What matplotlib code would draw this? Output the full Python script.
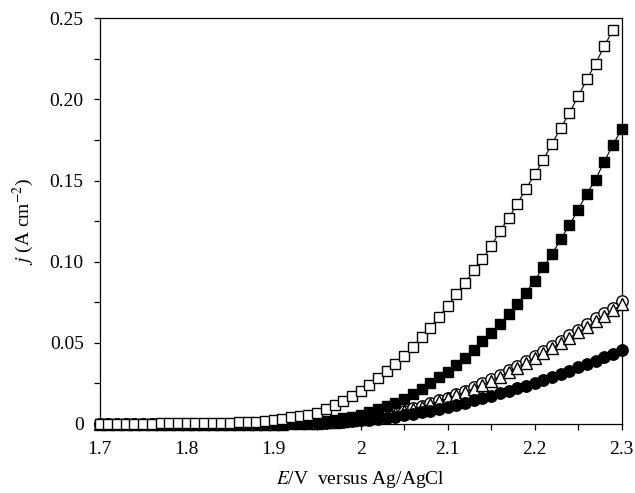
"""Current density vs potential, recreated."""

import matplotlib

matplotlib.use("Agg")
import matplotlib.pyplot as plt
from matplotlib.ticker import MultipleLocator, FixedLocator, FuncFormatter

plt.rcParams.update(
    {
        "font.family": "serif",
        "font.serif": ["Liberation Serif", "DejaVu Serif"],
        "mathtext.fontset": "stix",
        "font.size": 14,
        "axes.linewidth": 0.9,
    }
)

# Potential sweep, V vs Ag/AgCl
E = [1.70, 1.71, 1.72, 1.73, 1.74, 1.75, 1.76, 1.77, 1.78, 1.79,
     1.80, 1.81, 1.82, 1.83, 1.84, 1.85, 1.86, 1.87, 1.88, 1.89,
     1.90, 1.91, 1.92, 1.93, 1.94, 1.95, 1.96, 1.97, 1.98, 1.99,
     2.00, 2.01, 2.02, 2.03, 2.04, 2.05, 2.06, 2.07, 2.08, 2.09,
     2.10, 2.11, 2.12, 2.13, 2.14, 2.15, 2.16, 2.17, 2.18, 2.19,
     2.20, 2.21, 2.22, 2.23, 2.24, 2.25, 2.26, 2.27, 2.28, 2.29,
     2.30]

# open squares (ends at 2.29)
j_open_sq = [0.0001, 0.0001, 0.0001, 0.0002, 0.0002, 0.0002, 0.0002, 0.0003, 0.0003, 0.0003,
             0.0004, 0.0004, 0.0005, 0.0006, 0.0007, 0.0008, 0.0010, 0.0012, 0.0015, 0.0020,
             0.0025, 0.0033, 0.0041, 0.0049, 0.0057, 0.0070, 0.0091, 0.0119, 0.0144, 0.0173,
             0.0202, 0.0243, 0.0284, 0.0325, 0.0370, 0.0420, 0.0473, 0.0535, 0.0592, 0.0660,
             0.0728, 0.0798, 0.0868, 0.0946, 0.1016, 0.1094, 0.1189, 0.1267, 0.1357, 0.1448,
             0.1538, 0.1627, 0.1728, 0.1824, 0.1917, 0.2019, 0.2123, 0.2221, 0.2328, 0.2427]

j_filled_sq = [0.0, 0.0, 0.0, 0.0, 0.0, 0.0, 0.0, 0.0, 0.0, 0.0,
               0.0, 0.0, 0.0, 0.0, 0.0, 0.0001, 0.0002, 0.0003, 0.0004, 0.0005,
               0.0006, 0.0007, 0.0008, 0.0009, 0.0010, 0.0013, 0.0018, 0.0025, 0.0034, 0.0045,
               0.0057, 0.0074, 0.0091, 0.0111, 0.0131, 0.0156, 0.0185, 0.0218, 0.0255, 0.0288,
               0.0321, 0.0362, 0.0407, 0.0457, 0.0510, 0.0563, 0.0615, 0.0677, 0.0740, 0.0810,
               0.0884, 0.0967, 0.1045, 0.1140, 0.1226, 0.1321, 0.1420, 0.1506, 0.1617, 0.1720,
               0.1818]

j_open_circ = [0.0, 0.0, 0.0, 0.0, 0.0, 0.0, 0.0, 0.0, 0.0, 0.0,
               0.0, 0.0, 0.0, 0.0, 0.0, 0.0, 0.0, 0.0, 0.0, 0.0,
               0.0001, 0.0002, 0.0003, 0.0004, 0.0006, 0.0008, 0.0011, 0.0015, 0.0020, 0.0026,
               0.0033, 0.0041, 0.0050, 0.0060, 0.0071, 0.0083, 0.0097, 0.0112, 0.0128, 0.0145,
               0.0163, 0.0183, 0.0204, 0.0226, 0.0250, 0.0276, 0.0303, 0.0330, 0.0360, 0.0390,
               0.0420, 0.0450, 0.0483, 0.0514, 0.0547, 0.0580, 0.0613, 0.0650, 0.0683, 0.0716,
               0.0755]

j_open_tri = [0.0, 0.0, 0.0, 0.0, 0.0, 0.0, 0.0, 0.0, 0.0, 0.0,
              0.0, 0.0, 0.0, 0.0, 0.0, 0.0, 0.0, 0.0, 0.0, 0.0,
              0.0001, 0.0002, 0.0003, 0.0004, 0.0005, 0.0007, 0.0010, 0.0014, 0.0019, 0.0025,
              0.0031, 0.0039, 0.0048, 0.0057, 0.0068, 0.0080, 0.0093, 0.0107, 0.0122, 0.0139,
              0.0157, 0.0176, 0.0196, 0.0218, 0.0241, 0.0266, 0.0292, 0.0319, 0.0348, 0.0377,
              0.0406, 0.0436, 0.0468, 0.0499, 0.0531, 0.0564, 0.0597, 0.0633, 0.0666, 0.0700,
              0.0738]

j_filled_circ = [0.0, 0.0, 0.0, 0.0, 0.0, 0.0, 0.0, 0.0, 0.0, 0.0,
                 0.0, 0.0, 0.0, 0.0, 0.0, 0.0, 0.0, 0.0, 0.0, 0.0,
                 0.0001, 0.0002, 0.0003, 0.0004, 0.0005, 0.0007, 0.0009, 0.0011, 0.0014, 0.0018,
                 0.0022, 0.0027, 0.0032, 0.0038, 0.0045, 0.0053, 0.0062, 0.0072, 0.0082, 0.0093,
                 0.0105, 0.0118, 0.0132, 0.0145, 0.0159, 0.0173, 0.0188, 0.0204, 0.0220, 0.0237,
                 0.0254, 0.0271, 0.0290, 0.0309, 0.0329, 0.0350, 0.0370, 0.0391, 0.0411, 0.0432,
                 0.0457]

x_ticks = [1.7, 1.8, 1.9, 2.0, 2.1, 2.2, 2.3]
y_ticks = [0.0, 0.05, 0.10, 0.15, 0.20, 0.25]


fig = plt.figure(figsize=(6.35, 4.93), dpi=100)
ax = fig.add_axes([0.157, 0.140, 0.822, 0.823])

common = dict(color="black", lw=0.8, mec="black", mew=1.0, clip_on=False)
ax.plot(E, j_open_circ, marker="o", ms=8.2, mfc="white", zorder=3, **common)
ax.plot(E, j_open_tri, marker="^", ms=8.8, mfc="white", zorder=4, **common)
ax.plot(E, j_filled_circ, marker="o", ms=8.2, mfc="black", zorder=5, **common)
ax.plot(E, j_filled_sq, marker="s", ms=7.6, mfc="black", zorder=6, **common)
ax.plot(E[:len(j_open_sq)], j_open_sq, marker="s", ms=7.6, mfc="white", zorder=7, **common)

ax.set_xlim(1.7, 2.3)
ax.set_ylim(0, 0.25)

ax.xaxis.set_major_locator(FixedLocator(x_ticks))
ax.xaxis.set_minor_locator(MultipleLocator(0.05))
ax.yaxis.set_major_locator(FixedLocator(y_ticks))
ax.yaxis.set_minor_locator(MultipleLocator(0.025))
ax.xaxis.set_major_formatter(FuncFormatter(lambda v, p: f"{v:g}"))
ax.yaxis.set_major_formatter(FuncFormatter(lambda v, p: "0" if abs(v) < 1e-9 else f"{v:.2f}"))

ax.tick_params(which="both", direction="out", top=False, right=False, width=0.9)
ax.tick_params(axis="x", which="major", length=4.5, pad=8)
ax.tick_params(axis="y", which="major", length=4.5, pad=7)
ax.tick_params(which="minor", length=4.5)

ax.set_xlabel(r"$E$/V  versus Ag/AgCl", labelpad=8)
ax.set_ylabel(r"$j$ (A cm$^{-2}$)", labelpad=10)

fig.savefig("out.png", dpi=100)
